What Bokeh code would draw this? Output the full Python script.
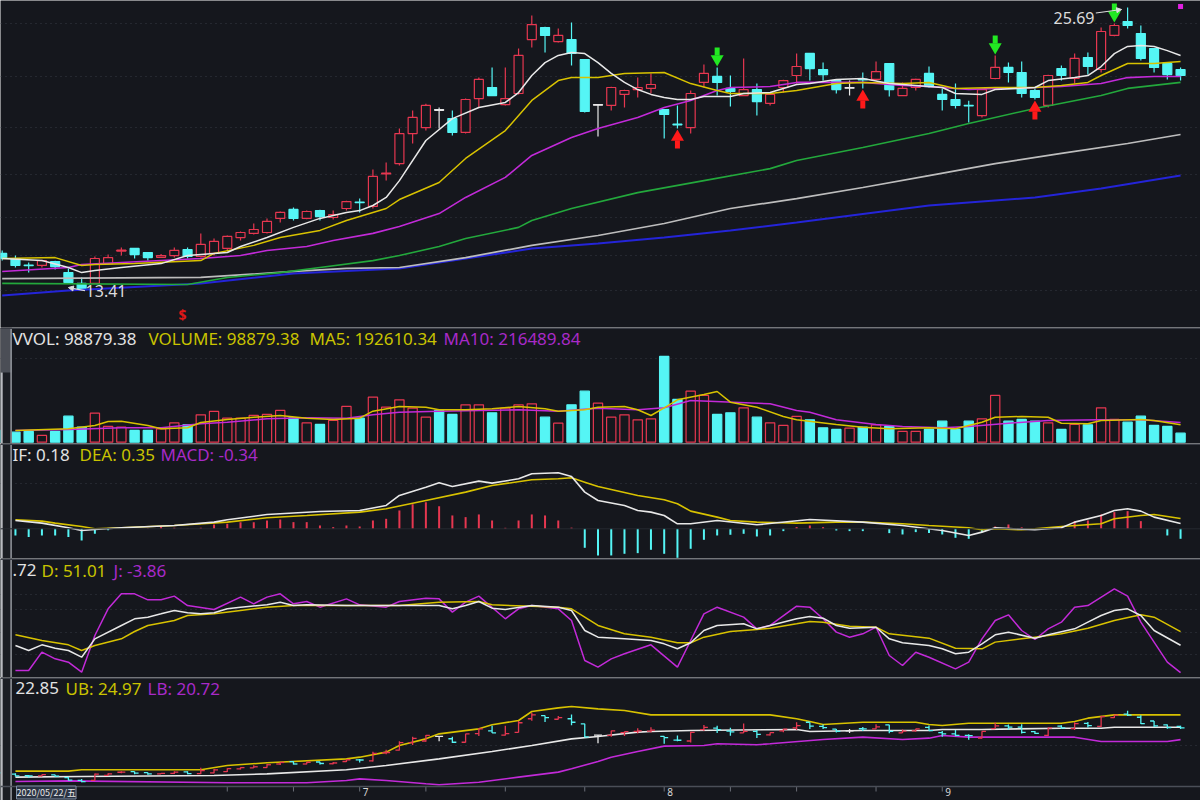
from bokeh.plotting import figure
from bokeh.layouts import column
from bokeh.models import Range1d, Grid, FixedTicker, Label, Span, Arrow, NormalHead
from bokeh.core.properties import value
from bokeh.embed import file_html
from bokeh.resources import INLINE

# ---------------- DATA ----------------
opens = [15.02, 14.80, 14.52, 14.50, 14.67, 14.19, 13.72, 13.72, 14.58, 15.12,
         15.24, 15.06, 14.85, 14.93, 15.19, 14.89, 15.02, 15.24, 15.71, 15.89,
         15.93, 16.54, 16.93, 16.54, 16.88, 16.58, 16.97, 17.25, 17.06, 18.47,
         18.92, 20.22, 20.48, 21.26, 20.87, 20.27, 21.74, 22.22, 21.48, 21.96,
         24.30, 24.82, 24.21, 24.30, 23.43, 21.48, 21.44, 21.92, 22.13, 22.18,
         21.26, 20.63, 20.48, 22.44, 22.70, 22.18, 21.87, 22.13, 21.53, 22.22,
         22.74, 23.70, 23.00, 22.52, 22.22, 22.58, 22.57, 23.26, 21.87, 22.22,
         22.83, 21.92, 21.70, 21.45, 21.00, 22.61, 23.09, 22.87, 22.09, 21.44,
         23.04, 22.61, 23.52, 23.00, 24.48, 25.08, 24.56, 23.91, 23.26, 23.00]
highs = [15.15, 14.93, 14.63, 14.75, 14.70, 14.37, 13.98, 14.89, 14.97, 15.28,
         15.26, 15.08, 15.00, 15.28, 15.28, 15.89, 15.67, 15.80, 15.97, 16.32,
         16.54, 16.84, 17.01, 16.88, 16.92, 16.88, 17.31, 17.40, 18.66, 18.97,
         20.44, 21.22, 21.52, 21.35, 21.22, 21.74, 22.65, 23.09, 23.09, 23.91,
         25.34, 24.86, 24.78, 25.04, 23.45, 21.50, 22.25, 22.12, 22.65, 22.83,
         21.28, 21.44, 22.09, 23.22, 23.09, 22.74, 23.48, 22.39, 21.95, 22.56,
         23.69, 23.72, 23.30, 22.55, 22.52, 22.87, 23.35, 23.28, 22.44, 22.60,
         23.13, 22.18, 22.39, 21.65, 22.15, 23.61, 23.30, 23.35, 22.18, 22.77,
         23.17, 23.69, 23.74, 24.82, 25.00, 25.69, 24.91, 23.93, 23.30, 23.09]
lows = [14.71, 14.41, 14.19, 14.41, 14.32, 13.72, 13.41, 13.70, 14.55, 14.93,
        14.80, 14.71, 14.82, 14.84, 14.80, 14.84, 14.93, 15.15, 15.58, 15.84,
        15.89, 16.36, 16.45, 16.50, 16.45, 16.49, 16.88, 16.80, 16.97, 18.19,
        18.84, 19.79, 20.35, 20.44, 20.14, 20.22, 21.35, 21.85, 21.44, 21.92,
        23.95, 23.74, 24.17, 23.17, 21.13, 20.09, 21.22, 21.35, 21.79, 21.96,
        20.01, 20.44, 20.22, 22.22, 21.87, 21.39, 21.85, 21.01, 21.44, 22.00,
        22.39, 22.52, 22.52, 21.96, 21.87, 22.18, 22.52, 21.83, 21.85, 22.09,
        22.22, 21.22, 21.31, 20.70, 20.92, 22.58, 22.44, 21.79, 21.70, 21.35,
        22.52, 22.39, 22.78, 22.87, 24.44, 24.78, 23.39, 22.87, 22.57, 22.52]
closes = [14.80, 14.50, 14.49, 14.71, 14.45, 13.76, 13.50, 14.80, 14.84, 15.16,
          14.97, 14.84, 14.93, 15.15, 14.89, 15.41, 15.54, 15.76, 15.93, 16.06,
          16.41, 16.80, 16.54, 16.84, 16.62, 16.71, 17.27, 17.22, 18.36, 18.51,
          20.22, 20.92, 21.44, 21.26, 20.27, 21.70, 22.57, 21.87, 21.74, 23.61,
          24.95, 24.48, 24.48, 23.70, 21.18, 21.48, 22.22, 22.09, 22.22, 22.35,
          21.05, 20.61, 21.96, 22.83, 22.44, 22.05, 22.13, 21.61, 21.92, 22.52,
          23.13, 23.04, 22.78, 22.13, 22.22, 22.55, 22.91, 22.13, 22.18, 22.57,
          22.26, 21.70, 21.44, 21.42, 22.13, 23.09, 22.87, 21.96, 21.79, 22.74,
          22.74, 23.48, 23.13, 24.65, 24.91, 24.91, 23.48, 23.09, 22.78, 22.74]
volume = [130000, 110000, 118000, 74000, 118000, 286000, 165000, 319000, 173000, 165000,
          129000, 129000, 147000, 213000, 191000, 301000, 338000, 264000, 264000, 294000,
          305000, 349000, 268000, 213000, 195000, 239000, 393000, 264000, 495000, 385000,
          466000, 374000, 275000, 349000, 305000, 411000, 411000, 323000, 374000, 411000,
          422000, 275000, 209000, 411000, 561000, 429000, 275000, 301000, 246000, 257000,
          943000, 470000, 561000, 514000, 305000, 323000, 378000, 275000, 213000, 184000,
          283000, 246000, 158000, 140000, 154000, 165000, 191000, 173000, 118000, 118000,
          140000, 231000, 140000, 231000, 257000, 514000, 231000, 250000, 231000, 213000,
          140000, 195000, 191000, 378000, 250000, 220000, 286000, 184000, 173000, 98879.38]

# price moving averages (read at sample candles)
ma5_idx = [0, 3, 5, 6, 7, 9, 12, 14, 17, 18, 20, 22, 24, 26, 27, 28, 29, 30, 32, 34,
           36, 38, 39, 40, 41, 42, 43, 44, 45, 46, 47, 48, 49, 50, 51, 52, 53, 55, 56, 58,
           59, 60, 61, 63, 65, 67, 68, 71, 72, 74, 75, 78, 79, 81, 82, 83, 84, 85, 86, 87,
           88, 89]
ma5_val = [14.80, 14.71, 14.41, 14.19, 14.28, 14.41, 14.58, 14.93, 15.06, 15.32,
           15.71, 16.15, 16.54, 16.80, 16.88, 17.10, 17.45, 18.18, 19.92, 20.87,
           21.35, 21.57, 22.00, 22.74, 23.30, 23.61, 23.74, 23.69, 23.30, 22.83,
           22.44, 22.13, 21.92, 21.79, 21.70, 21.70, 21.83, 21.83, 21.96, 22.00,
           22.18, 22.35, 22.39, 22.57, 22.61, 22.39, 22.35, 22.22, 21.96, 21.92,
           22.13, 22.22, 22.52, 22.65, 22.74, 23.13, 23.69, 24.00, 24.04, 24.00,
           23.82, 23.61]
ma10_idx = [0, 4, 6, 7, 10, 15, 16, 19, 21, 24, 26, 29, 30, 33, 35, 38, 40, 42, 43, 45,
            47, 50, 52, 54, 55, 58, 60, 63, 65, 68, 70, 72, 75, 78, 80, 82, 83, 85, 87, 89]
ma10_val = [14.80, 14.84, 14.50, 14.54, 14.58, 14.71, 15.02, 15.37, 15.71, 16.02,
            16.45, 16.97, 17.36, 18.10, 19.14, 20.35, 21.66, 22.52, 22.65, 22.65,
            22.83, 22.87, 22.39, 22.09, 21.96, 21.96, 22.09, 22.39, 22.44, 22.39,
            22.44, 22.18, 22.22, 22.22, 22.31, 22.44, 22.74, 23.26, 23.26, 23.35]
ma20_idx = [0, 5, 6, 15, 18, 20, 23, 25, 28, 30, 33, 35, 38, 40, 43, 45, 48, 50, 52, 54,
            55, 58, 60, 65, 68, 70, 73, 75, 78, 80, 83, 85, 87, 89]
ma20_val = [14.24, 14.41, 14.54, 14.80, 14.93, 15.15, 15.32, 15.58, 15.89, 16.19,
            16.75, 17.45, 18.32, 19.27, 20.05, 20.44, 20.92, 21.35, 21.66, 22.09,
            22.22, 22.26, 22.44, 22.44, 22.31, 22.26, 22.13, 22.18, 22.22, 22.26,
            22.39, 22.65, 22.70, 22.70]
ma60_idx = [0, 14, 17, 21, 24, 28, 30, 33, 35, 39, 40, 43, 48, 53, 58, 60, 65, 70, 73, 78,
            83, 85, 89]
ma60_val = [13.72, 13.67, 13.98, 14.19, 14.41, 14.71, 14.93, 15.32, 15.67, 16.15,
            16.45, 16.97, 17.66, 18.18, 18.70, 19.05, 19.62, 20.22, 20.66, 21.31,
            21.87, 22.18, 22.44]
ma120_idx = [0, 15, 22, 26, 30, 35, 40, 45, 50, 55, 60, 65, 70, 75, 80, 85, 89]
ma120_val = [13.93, 13.98, 14.24, 14.37, 14.41, 14.84, 15.37, 15.80, 16.32, 16.97,
             17.40, 17.88, 18.40, 18.92, 19.36, 19.79, 20.18]
ma250_idx = [0, 5, 15, 22, 30, 40, 45, 50, 55, 60, 70, 78, 83, 89]
ma250_val = [13.20, 13.41, 13.72, 14.15, 14.37, 15.23, 15.45, 15.71, 16.02, 16.36,
             17.10, 17.45, 17.84, 18.40]
price_grid = [25.00, 22.70, 20.48, 18.45, 16.58, 14.93, 13.41]

# buy / sell signal arrows and event marks
buy_idx = [51, 65, 78]
sell_idx = [54, 75, 84]
dividend_idx = [14]
flag_idx = [89]

# volume moving averages
vma5_idx = [1, 5, 7, 8, 9, 11, 12, 14, 15, 17, 19, 21, 23, 25, 27, 28, 30, 32, 33, 35,
            37, 39, 41, 42, 44, 45, 47, 48, 49, 50, 51, 53, 54, 55, 57, 59, 60, 63, 65, 67,
            70, 72, 74, 75, 77, 79, 80, 82, 83, 86, 87, 89]
vma5_val = [128700, 147400, 183700, 227700, 231000, 183700, 147400, 158400, 216700, 249700,
            275000, 293700, 264000, 249700, 264000, 341000, 392700, 385000, 356400, 356400,
            367400, 392700, 367400, 341000, 356400, 385000, 392700, 356400, 293700, 378400,
            466400, 524700, 557700, 440000, 385000, 282700, 246400, 194700, 165000, 147400,
            158400, 147400, 220000, 275000, 282700, 275000, 209000, 202400, 238700, 249700,
            238700, 192610.34]
vma10_idx = [1, 5, 9, 12, 15, 17, 20, 23, 26, 28, 30, 33, 36, 39, 42, 45, 48, 50, 52, 58,
             60, 61, 63, 66, 68, 71, 73, 76, 79, 83, 86, 89]
vma10_val = [128700, 139700, 158400, 158400, 202400, 220000, 257400, 268400, 264000, 301400,
             330000, 341000, 348700, 356400, 341000, 372900, 356400, 378400, 458700, 422400,
             348700, 330000, 246400, 194700, 172700, 158400, 172700, 209000, 238700, 246400,
             246400, 216489.84]
vol_grid = [920700]

# MACD
dif_idx = [1, 3, 5, 6, 7, 9, 13, 16, 17, 20, 24, 27, 29, 30, 32, 33, 34, 36, 37, 39,
           40, 42, 43, 44, 45, 47, 48, 49, 50, 51, 52, 54, 57, 61, 65, 68, 71, 73, 74, 75,
           78, 80, 81, 83, 84, 85, 86, 87, 89]
dif_val = [0.283, 0.193, 0.034, -0.057, -0.023, 0.034, 0.113, 0.227, 0.306, 0.488,
           0.590, 0.624, 0.794, 1.134, 1.417, 1.565, 1.440, 1.621, 1.553, 1.701,
           1.871, 1.905, 1.780, 1.247, 0.964, 0.794, 0.624, 0.567, 0.454, 0.170,
           0.170, 0.283, 0.136, 0.317, 0.227, 0.113, -0.057, -0.227, -0.113, 0.034,
           -0.034, 0.034, 0.227, 0.454, 0.624, 0.680, 0.601, 0.397, 0.18]
dea_idx = [1, 3, 4, 6, 7, 9, 13, 17, 20, 23, 27, 29, 32, 35, 37, 40, 42, 43, 44, 45,
           48, 50, 51, 52, 54, 55, 57, 60, 63, 65, 68, 70, 73, 74, 75, 77, 78, 80, 83, 84,
           86, 87, 89]
dea_val = [0.306, 0.261, 0.193, 0.079, 0.0, 0.034, 0.113, 0.227, 0.374, 0.454,
           0.567, 0.680, 0.964, 1.247, 1.474, 1.667, 1.701, 1.735, 1.587, 1.44,
           1.134, 0.986, 0.850, 0.601, 0.397, 0.283, 0.227, 0.193, 0.227, 0.227,
           0.170, 0.113, 0.034, -0.034, 0.0, -0.034, 0.0, 0.079, 0.170, 0.340,
           0.454, 0.488, 0.35]
macd_hist = [-0.20, -0.227, -0.283, -0.227, -0.227, -0.283, -0.397, -0.170, -0.05, 0.0,
             0.0, 0.02, 0.079, 0.034, 0.01, 0.034, 0.147, 0.170, 0.227, 0.227,
             0.283, 0.317, 0.227, 0.227, 0.113, 0.057, 0.113, 0.079, 0.283, 0.340,
             0.624, 0.831, 0.907, 0.771, 0.454, 0.397, 0.488, 0.283, 0.034, 0.283,
             0.488, 0.454, 0.283, 0.04, -0.646, -0.907, -0.907, -0.850, -0.828, -0.714,
             -0.850, -0.986, -0.680, -0.374, -0.227, -0.204, -0.170, -0.261, -0.227, -0.079,
             0.057, 0.113, 0.057, -0.057, -0.079, -0.079, 0.0, -0.147, -0.193, -0.113,
             -0.147, -0.193, -0.306, -0.340, -0.113, 0.079, 0.147, 0.05, 0.0, 0.02,
             0.079, 0.261, 0.283, 0.488, 0.567, 0.601, 0.261, 0.0, -0.227, -0.34]
macd_grid = [1.53]

# KDJ
k_idx = [1, 2, 3, 4, 5, 6, 7, 9, 10, 11, 12, 13, 14, 15, 16, 17, 18, 20, 21, 22,
         23, 26, 30, 33, 34, 35, 36, 37, 38, 40, 42, 43, 44, 45, 47, 49, 50, 51, 52, 53,
         54, 56, 57, 58, 60, 61, 62, 63, 64, 66, 67, 68, 70, 71, 72, 73, 74, 75, 76, 78,
         79, 81, 82, 83, 84, 85, 86, 87, 89]
k_val = [32.4, 25.7, 33.3, 28.8, 25.7, 16.8, 41.3, 59.1, 68.0, 70.2,
         74.6, 79.1, 76.0, 74.6, 76.0, 81.3, 83.5, 86.6, 90.2, 85.7,
         86.6, 85.7, 85.7, 85.7, 81.3, 85.7, 91.1, 82.2, 80.4, 85.7,
         83.5, 79.1, 52.4, 43.5, 41.3, 39.1, 34.6, 28.0, 36.0, 52.4,
         59.1, 61.3, 54.6, 59.1, 68.0, 71.1, 68.8, 59.1, 55.5, 56.8,
         41.3, 36.0, 32.4, 28.0, 21.3, 23.5, 34.6, 46.6, 50.2, 42.2,
         46.6, 54.6, 63.5, 72.4, 79.1, 81.3, 72.4, 52.4, 32.72]
d_idx = [1, 3, 5, 6, 7, 9, 10, 11, 13, 14, 16, 18, 20, 22, 30, 33, 36, 37, 40, 42,
         43, 44, 45, 47, 49, 51, 52, 53, 55, 57, 58, 60, 61, 62, 64, 66, 67, 70, 72, 74,
         75, 77, 78, 80, 82, 84, 86, 87, 89]
d_val = [46.6, 39.1, 33.3, 25.7, 32.4, 41.3, 51.1, 59.1, 65.7, 72.4,
         74.6, 79.1, 83.5, 85.7, 85.7, 90.2, 91.1, 86.6, 84.8, 83.5,
         81.3, 70.2, 59.1, 48.0, 43.5, 36.0, 36.0, 43.5, 51.1, 53.7,
         55.5, 61.3, 64.4, 63.5, 58.2, 56.8, 48.0, 42.2, 28.8, 28.0,
         36.9, 41.3, 43.5, 48.0, 55.5, 65.7, 73.3, 70.2, 51.01]
j_idx = [1, 2, 3, 4, 5, 6, 7, 8, 9, 10, 11, 12, 13, 14, 16, 18, 19, 20, 21, 22,
         23, 24, 26, 27, 29, 30, 32, 33, 34, 35, 36, 38, 39, 40, 42, 43, 44, 45, 46, 47,
         49, 51, 52, 53, 54, 56, 57, 58, 60, 61, 62, 63, 64, 65, 66, 67, 68, 69, 70, 72,
         73, 74, 75, 76, 77, 78, 79, 80, 81, 82, 84, 85, 86, 88, 89]
j_val = [-1.0, -1.0, 23.5, 14.6, 10.2, -3.2, 45.7, 81.3, 101.3, 101.3,
         93.3, 93.3, 98.2, 85.7, 80.4, 96.9, 88.0, 96.9, 101.3, 88.0,
         91.1, 83.5, 94.6, 86.6, 83.5, 91.1, 95.5, 94.6, 76.9, 90.2,
         98.2, 68.0, 81.3, 85.7, 81.3, 65.7, 12.4, 3.5, 14.6, 21.3,
         33.3, 3.5, 39.1, 74.6, 83.5, 70.2, 54.6, 59.1, 84.8, 83.5,
         68.0, 50.2, 43.5, 48.0, 56.8, 19.1, 5.7, 23.5, 16.8, 1.3,
         10.2, 41.3, 65.7, 73.3, 52.4, 40.4, 54.6, 63.5, 83.5, 85.7,
         108.0, 98.2, 63.5, 10.2, -3.86]
kdj_grid = [100, 80, 50, 20]

# BOLL
ub_idx = [1, 5, 6, 15, 17, 20, 26, 27, 29, 30, 32, 33, 36, 37, 39, 40, 42, 43, 45, 47,
          49, 58, 60, 61, 62, 65, 69, 70, 71, 73, 80, 81, 82, 84, 89]
ub_val = [15.31, 15.31, 15.54, 15.54, 16.28, 16.74, 17.42, 17.71, 18.57, 19.71,
          20.85, 21.71, 22.57, 23.26, 24.00, 25.54, 26.17, 26.40, 26.00, 25.72,
          24.97, 24.97, 24.29, 23.83, 23.31, 23.71, 23.71, 23.31, 23.14, 23.54,
          23.54, 23.83, 24.40, 24.97, 24.97]
mid_idx = [1, 6, 16, 20, 26, 29, 33, 37, 40, 43, 45, 48, 49, 52, 60, 61, 65, 70, 71, 74,
           80, 83, 84, 89]
mid_val = [14.28, 14.39, 14.57, 14.85, 15.54, 16.28, 17.42, 18.68, 19.71, 20.85,
           21.25, 22.00, 22.11, 22.28, 22.46, 22.11, 22.28, 22.28, 22.46, 22.46,
           22.68, 22.68, 22.85, 22.85]
lb_idx = [1, 5, 17, 23, 26, 27, 29, 32, 33, 36, 39, 42, 43, 45, 46, 48, 50, 53, 54, 57,
          58, 62, 65, 68, 70, 71, 73, 81, 83, 88, 89]
lb_val = [13.54, 13.65, 13.31, 13.31, 13.71, 13.99, 13.71, 13.14, 12.97, 13.42,
          14.28, 15.14, 15.71, 16.97, 17.71, 18.68, 19.60, 19.71, 20.00, 19.83,
          20.00, 20.74, 21.14, 20.74, 20.97, 21.43, 21.14, 21.14, 20.40, 20.40, 20.72]
boll_grid = [19.71]

# time axis
first_date = "2020/05/22/五"
month_idx = [27, 50, 71]
month_txt = ["7", "8", "9"]
week_tick_idx = [17, 22, 27, 32, 38, 44, 50, 55, 60, 66, 71]

# titles
vol_title = [("VVOL: 98879.38", 12, "w"), ("VOLUME: 98879.38", 148, "y"),
             ("MA5: 192610.34", 309, "y"), ("MA10: 216489.84", 443, "m")]
macd_title = [("IF: 0.18", 12, "w"), ("DEA: 0.35", 79, "y"), ("MACD: -0.34", 160, "m")]
kdj_title = [(".72", 12, "w"), ("D: 51.01", 41, "y"), ("J: -3.86", 113, "m")]
boll_title = [("22.85", 15, "w"), ("UB: 24.97", 65, "y"), ("LB: 20.72", 147, "m")]

# ---------------- STYLE ----------------
BG = "#15171d"
RED = "#e63750"
CYAN = "#55f5f5"
WHITE = "#e8e8e8"
YEL = "#d8c200"
MAG = "#c22ad8"
GREEN = "#23a83c"
GREY = "#bdbdbd"
BLUE = "#2424d8"
GRIDC = "#363a45"
SEP = "#3a3d46"
TCOL = {"w": "#e2e2e2", "y": "#c9c300", "m": "#a82ac8"}
FONT = "Noto Sans"
TSIZE = "17px"

W = 1200
PXB = 13.24                     # pixels per candle
X0 = -1.7 / PXB
X1 = X0 + W / PXB
xr = Range1d(X0, X1)

N = len(opens)
idx = list(range(N))

def panel(h, y0, y1):
    p = figure(width=W, height=h, x_range=xr, y_range=Range1d(y0, y1),
               x_axis_type=None, y_axis_type=None, toolbar_location=None,
               output_backend="svg", min_border=0, min_border_left=0,
               min_border_right=0, min_border_top=0, min_border_bottom=0,
               background_fill_color=BG, border_fill_color=BG, outline_line_color=None)
    return p

def add_grid(p, ticks):
    p.add_layout(Grid(dimension=1, ticker=FixedTicker(ticks=ticks),
                      grid_line_color=GRIDC, grid_line_dash="1 4", grid_line_width=1))

def add_title(p, h, ytop, items):
    for txt, x, c in items:
        p.add_layout(Label(x=x, y=h - ytop, x_units="screen", y_units="screen", text=txt,
                           text_color=TCOL[c], text_font=FONT, text_font_size=TSIZE,
                           text_baseline="middle"))

def left_strip(p, h, y0, y1, block=0):
    upp = (y1 - y0) / h
    xs = X0 + 11.5 / PXB
    p.quad(left=[X0], right=[xs], bottom=[y0], top=[y1], fill_color="#1b1d23", line_color=None)
    if block:
        p.quad(left=[X0], right=[xs], bottom=[y1 - block * upp], top=[y1],
               fill_color="#4b4e56", line_color=None)
    p.segment(x0=[X0 + 1.2 / PXB], y0=[y0], x1=[X0 + 1.2 / PXB], y1=[y1 - block * upp],
              line_color="#b9bbc0", line_width=2)
    p.segment(x0=[X0 + 10.6 / PXB], y0=[y0], x1=[X0 + 10.6 / PXB], y1=[y1],
              line_color="#8e9198", line_width=1.6)

def top_sep(p, h, y0, y1):
    p.add_layout(Span(location=y1 - 0.8 * (y1 - y0) / h, dimension="width",
                      line_color=SEP, line_width=1.5))

# candle colours
ccol, fcol, btop, bbot, vcol, vfill = [], [], [], [], [], []
for i in idx:
    o, c = opens[i], closes[i]
    col = RED if c > o else (CYAN if c < o else WHITE)
    ccol.append(col)
    fcol.append(BG if col == RED else col)
    t, b = max(o, c), min(o, c)
    if t - b < 0.03:
        b = t - 0.03
    btop.append(t)
    bbot.append(b)
    if c > o:
        up = True
    elif c < o:
        up = False
    else:
        up = i == 0 or c >= closes[i - 1]
    vcol.append(RED if up else CYAN)
    vfill.append(BG if up else CYAN)

# ---------------- MAIN PANEL ----------------
H1 = 327
PY = 23.05
Y1 = 25.994
Y0 = Y1 - H1 / PY
p1 = panel(H1, Y0, Y1)
add_grid(p1, price_grid)
p1.segment(x0=idx, y0=lows, x1=idx, y1=highs, line_color=ccol, line_width=1.2)
p1.vbar(x=idx, width=0.68, top=btop, bottom=bbot, fill_color=fcol, line_color=ccol, line_width=1.2)
for xs, ys, c, lw in [(ma250_idx, ma250_val, BLUE, 2), (ma120_idx, ma120_val, GREY, 1.7),
                      (ma60_idx, ma60_val, GREEN, 1.6), (ma20_idx, ma20_val, MAG, 1.6),
                      (ma10_idx, ma10_val, YEL, 1.5), (ma5_idx, ma5_val, WHITE, 1.5)]:
    p1.line(xs, ys, line_color=c, line_width=lw)

# signal arrows
up_low = [lows[i] for i in buy_idx]
dn_high = [highs[i] for i in sell_idx]
p1.scatter(buy_idx, [v - 8.5 / PY for v in up_low], marker="triangle", size=13,
           fill_color="#ff1a1a", line_color=None)
p1.rect(buy_idx, [v - 16 / PY for v in up_low], width=5, height=8,
        width_units="screen", height_units="screen", fill_color="#ff1a1a", line_color=None)
p1.scatter(sell_idx, [v + 8.5 / PY for v in dn_high], marker="inverted_triangle",
           size=13, fill_color="#22e822", line_color=None)
p1.rect(sell_idx, [v + 16 / PY for v in dn_high], width=5, height=8,
        width_units="screen", height_units="screen", fill_color="#22e822", line_color=None)

# high / low marks
hi_i = max(idx, key=lambda i: highs[i])
lo_i = min(idx, key=lambda i: lows[i])
p1.text([hi_i - 2.5], [highs[hi_i] - 10 / PY], text=["%.2f" % highs[hi_i]], text_align="right",
        text_baseline="middle", text_color="#dcdcdc", text_font=value(FONT), text_font_size="16px")
p1.add_layout(Arrow(end=NormalHead(size=5, fill_color="#dcdcdc", line_color="#dcdcdc"),
                    x_start=hi_i - 2.4, y_start=highs[hi_i] - 5.5 / PY,
                    x_end=hi_i - 0.45, y_end=highs[hi_i] - 2 / PY,
                    line_color="#dcdcdc", line_width=1.2))
p1.text([lo_i + 0.3], [lows[lo_i]], text=["%.2f" % lows[lo_i]], text_align="left",
        text_baseline="middle", text_color="#dcdcdc", text_font=value(FONT), text_font_size="16px")
p1.add_layout(Arrow(end=NormalHead(size=5, fill_color="#dcdcdc", line_color="#dcdcdc"),
                    x_start=lo_i + 0.25, y_start=lows[lo_i],
                    x_end=lo_i - 1.0, y_end=lows[lo_i] + 3 / PY,
                    line_color="#dcdcdc", line_width=1.2))
p1.text(dividend_idx, [Y0 + 13 / PY] * len(dividend_idx), text=["$"] * len(dividend_idx),
        x_offset=-5, text_align="center", text_baseline="middle", text_color="#e01818",
        text_font=value(FONT), text_font_size="14px", text_font_style="bold")
p1.scatter(flag_idx, [Y1 - 6 / PY] * len(flag_idx), marker="square", size=5,
           fill_color="#e020e0", line_color=None)

# ---------------- VOLUME ----------------
H2 = 116
PV = 11000.0
V0 = -1.3 * PV
V1 = V0 + H2 * PV
p2 = panel(H2, V0, V1)
add_grid(p2, vol_grid)
p2.vbar(x=idx, width=0.7, top=volume, bottom=0, fill_color=vfill, line_color=vcol, line_width=1.2)
p2.line(vma10_idx, vma10_val, line_color=MAG, line_width=1.5)
p2.line(vma5_idx, vma5_val, line_color=YEL, line_width=1.5)
left_strip(p2, H2, V0, V1, block=45)
top_sep(p2, H2, V0, V1)
add_title(p2, H2, 11, vol_title)

# ---------------- MACD ----------------
H3 = 115
PM = 29.4
M0 = -(558 - 528.3) / PM
M1 = (528.3 - 443) / PM
p3 = panel(H3, M0, M1)
add_grid(p3, macd_grid)
p3.add_layout(Span(location=0, dimension="width", line_color="#262a31", line_width=1))
hcol = [RED if v > 0 else CYAN for v in macd_hist]
p3.segment(x0=idx, y0=[0] * N, x1=idx, y1=macd_hist, line_color=hcol, line_width=2)
p3.line(dea_idx, dea_val, line_color=YEL, line_width=1.6)
p3.line(dif_idx, dif_val, line_color=WHITE, line_width=1.6)
left_strip(p3, H3, M0, M1)
top_sep(p3, H3, M0, M1)
add_title(p3, H3, 10.5, macd_title)

# ---------------- KDJ ----------------
H4 = 119
PK = 0.75
K1 = 100 + (594.3 - 558) / PK
K0 = K1 - H4 / PK
p4 = panel(H4, K0, K1)
add_grid(p4, kdj_grid)
p4.line(j_idx, j_val, line_color=MAG, line_width=1.5)
p4.line(d_idx, d_val, line_color=YEL, line_width=1.5)
p4.line(k_idx, k_val, line_color=WHITE, line_width=1.5)
left_strip(p4, H4, K0, K1)
top_sep(p4, H4, K0, K1)
add_title(p4, H4, 11.5, kdj_title)

# ---------------- BOLL ----------------
H5 = 123
PB = 5.83
B1 = 22.85 + (726.7 - 677) / PB
B0 = B1 - H5 / PB
STRIP = 14                      # height of the date strip at the bottom
p5 = panel(H5, B0, B1)
add_grid(p5, boll_grid)
p5.line(lb_idx, lb_val, line_color=MAG, line_width=1.6)
p5.line(ub_idx, ub_val, line_color=YEL, line_width=1.6)
p5.line(mid_idx, mid_val, line_color=WHITE, line_width=1.6)
p5.segment(x0=idx, y0=lows, x1=idx, y1=highs, line_color=ccol, line_width=1.3)
p5.segment(x0=[i - 0.3 for i in idx], y0=opens, x1=idx, y1=opens, line_color=ccol, line_width=1.3)
p5.segment(x0=idx, y0=closes, x1=[i + 0.3 for i in idx], y1=closes, line_color=ccol, line_width=1.3)
yb = B0 + STRIP / PB
p5.quad(left=[X0], right=[X1], bottom=[B0], top=[yb], fill_color=BG, line_color=None)
p5.add_layout(Span(location=yb, dimension="width", line_color="#4a4e57", line_width=1.5))
p5.segment(x0=week_tick_idx, y0=[yb] * len(week_tick_idx), x1=week_tick_idx,
           y1=[yb - 5 / PB] * len(week_tick_idx), line_color="#6a6e77", line_width=1)
p5.text(month_idx, [yb - 1.5 / PB] * len(month_idx), text=month_txt, x_offset=3,
        text_align="left", text_baseline="top", text_color="#d8d8d8",
        text_font=value(FONT), text_font_size="10px")
left_strip(p5, H5, B0, B1)
top_sep(p5, H5, B0, B1)
p5.add_layout(Label(x=16, y=1.5, x_units="screen", y_units="screen", text=first_date,
                    text_color="#e8e8e8", text_font="Noto Sans CJK SC", text_font_size="9px",
                    text_baseline="bottom", background_fill_color="#2b3444",
                    border_line_color="#7f8da3", border_line_width=1))
add_title(p5, H5, 10.5, boll_title)

layout = column(p1, p2, p3, p4, p5, spacing=0)
open("out.html", "w").write(file_html(layout, INLINE))
